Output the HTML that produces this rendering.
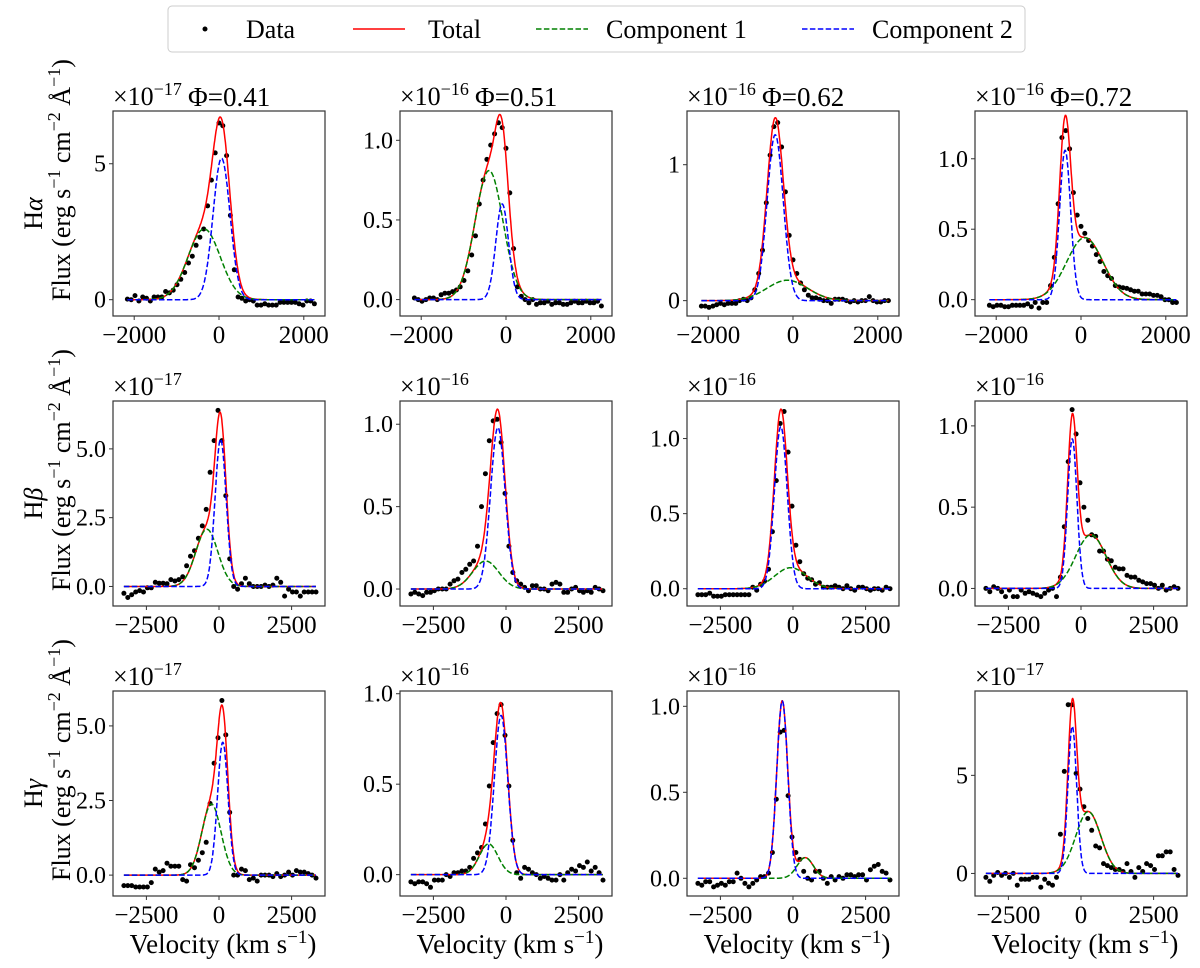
<!DOCTYPE html>
<html><head><meta charset="utf-8"><style>
html,body{margin:0;padding:0;background:#fff;}
svg{display:block;font-family:"Liberation Serif",serif;}
</style></head><body>
<svg id="fig" width="1200" height="968" viewBox="0 0 1200 968" xmlns="http://www.w3.org/2000/svg">
  <g>
    <rect x="168" y="6" width="857" height="46" rx="4" fill="#fff" stroke="#cccccc" stroke-width="1"/>
    <circle cx="205" cy="29" r="2.5" fill="#000"/>
    <text x="246" y="38" font-size="26">Data</text>
    <line x1="353" y1="29" x2="405" y2="29" stroke="#ff0000" stroke-width="1.5"/>
    <text x="428" y="38" font-size="26">Total</text>
    <line x1="536" y1="29" x2="588" y2="29" stroke="#008000" stroke-width="1.5" stroke-dasharray="5.5,2.4"/>
    <text x="606" y="38" font-size="26">Component 1</text>
    <line x1="802" y1="29" x2="854" y2="29" stroke="#0000ff" stroke-width="1.5" stroke-dasharray="5.5,2.4"/>
    <text x="872" y="38" font-size="26">Component 2</text>
  </g>
  <g id="panels"></g>
  <g id="labels"></g>
</svg>
<script>
// ---- data (flux in panel units of the shown ×10^n offset) ----
const xStartRow = [-2160, -3275, -3275];
const xStepRow = [90, 135, 135];
const xLimRow = [[-2500, 2500], [-3650, 3650], [-3650, 3650]];
const xTickValsRow = [[-2000, 0, 2000], [-2500, 0, 2500], [-2500, 0, 2500]];
const xTickLabelsRow = [["−2000", "0", "2000"], ["−2500", "0", "2500"], ["−2500", "0", "2500"]];

const dataP1 = [0.02,0,0.15,-0.05,0.1,0.05,-0.05,0.1,0.1,0.1, 0.3,0.25,0.35,0.55,0.75,1.0,1.35,1.6,2.0,2.3, 2.6,3.45,4.4,5.4,6.5,6.4,5.3,3.1,1.1,0.1, 0.05,-0.05,0,-0.05,-0.2,-0.2,-0.15,-0.2,-0.2,-0.2, -0.1,-0.1,-0.1,-0.1,-0.1,-0.15,-0.2,-0.05,-0.05,-0.15];
const dataP2 = [0.01,0,-0.01,0,0.01,0.01,0,0.03,0.04,0.04, 0.05,0.06,0.08,0.12,0.18,0.28,0.4,0.6,0.75,0.88, 0.97,1.04,1.11,1.08,0.95,0.67,0.32,0.08,0.02,0, -0.02,0,-0.03,-0.02,-0.02,-0.01,-0.03,-0.02,-0.02,-0.03, -0.03,-0.02,-0.01,-0.02,-0.02,-0.01,-0.02,-0.02,-0.01,-0.04];
const dataP3 = [-0.04,-0.04,-0.05,-0.04,-0.03,-0.02,-0.03,-0.02,-0.02,-0.02, 0,0.01,0,0.02,0.08,0.2,0.37,0.72,1.07,1.28, 1.31,1.13,0.8,0.48,0.3,0.2,0.13,0.08,0.04,0.02, 0.02,0.01,0,0,-0.02,0.01,0.01,0.01,0,-0.01, 0,-0.01,0,0,0.03,0,-0.01,-0.01,0,0];
const dataP4 = [-0.04,-0.05,-0.04,-0.04,-0.05,-0.05,-0.04,-0.04,-0.04,-0.04, -0.03,-0.05,-0.02,-0.06,-0.02,-0.02,0.1,0.3,0.68,1.15, 1.2,1.07,0.76,0.6,0.52,0.47,0.42,0.38,0.32,0.27, 0.2,0.17,0.15,0.1,0.09,0.085,0.08,0.07,0.06,0.06, 0.04,0.04,0.04,0.03,0.03,0.02,0,0,-0.02,-0.02];
const dataP5 = [-0.25,-0.4,-0.3,-0.2,-0.15,-0.2,-0.05,-0.05,0.15,0.12, 0.12,0.1,0.25,0.2,0.25,0.35,0.75,1.1,1.3,1.75, 2.2,2.8,4.15,5.3,6.4,5.3,3.3,1.0,0,-0.1, 0.1,0.3,0.1,0,0,0,0.05,0,0.05,0.3, 0.15,-0.35,-0.1,-0.2,-0.2,-0.35,-0.2,-0.2,-0.2,-0.2];
const dataP6 = [-0.03,-0.02,-0.03,-0.04,-0.02,-0.02,-0.01,0,0,0, 0.03,0.05,0.06,0.1,0.12,0.15,0.17,0.26,0.5,0.7, 0.9,1.02,1.03,0.89,0.58,0.26,0.1,0.05,0.03,0.01, -0.01,0.02,0.02,0,0,-0.01,0.03,0.04,0.03,-0.02, -0.02,0,0.01,-0.01,-0.02,-0.01,-0.02,0.01,0,-0.01];
const dataP7 = [-0.04,-0.04,-0.04,-0.03,-0.05,-0.05,-0.05,-0.04,-0.04,-0.04, -0.04,-0.04,-0.04,-0.04,0.01,-0.01,0.03,0.05,0.13,0.38, 0.72,1.1,1.18,0.91,0.55,0.29,0.18,0.1,0.07,0.06, 0.03,0.04,0.01,0.01,0.01,0.02,0.01,0,0.02,0, -0.01,0.01,0.01,0,-0.01,0,0,-0.01,0.01,0];
const dataP8 = [0,-0.02,0.01,0,-0.02,-0.05,-0.01,-0.05,-0.05,-0.01, -0.03,-0.02,-0.03,-0.04,-0.05,-0.03,-0.01,0,-0.05,0.07, 0.38,0.78,1.1,0.95,0.65,0.5,0.42,0.33,0.32,0.23, 0.23,0.18,0.17,0.13,0.12,0.12,0.08,0.07,0.07,0.05, 0.04,0.03,0.03,0.02,0,0.02,-0.01,0,0.01,0];
const dataP9 = [-0.35,-0.35,-0.35,-0.4,-0.4,-0.4,-0.4,-0.25,0.2,0.1, 0.15,0.4,0.3,0.3,0.3,-0.15,-0.2,0.35,0.25,0.5, 0.75,1.1,2.4,3.75,4.6,5.85,4.7,2.1,0,0, 0.2,0.15,-0.15,-0.1,-0.2,0,0,0,-0.05,0.05, -0.05,0,0.1,0,0.15,0.1,0.1,0.05,0,-0.1];
const dataP10 = [-0.04,-0.05,-0.04,-0.04,-0.05,-0.07,-0.03,-0.03,-0.03,0, -0.01,0.01,0.01,0.02,0.02,0.04,0.09,0.12,0.15,0.28, 0.49,0.73,0.89,0.94,0.77,0.49,0.19,0.01,-0.02,0.04, 0.03,0.01,0,-0.02,-0.01,-0.02,-0.03,-0.03,0,-0.03, 0.01,0.03,0.02,0.05,0.04,0.07,0.02,0.04,0.01,-0.03];
const dataP11 = [-0.03,-0.04,-0.02,-0.02,-0.05,-0.04,-0.03,-0.04,-0.02,-0.02, 0.03,0,-0.03,-0.05,-0.03,-0.01,0.01,0.01,0.03,0.15, 0.46,0.85,0.86,0.48,0.24,0.15,0.11,0.04,0,-0.01, 0.04,0.04,0,-0.03,0.01,-0.01,0.01,0,0.02,0.02, 0.01,0.02,0.02,-0.01,0.05,0.07,0.08,0.04,0.03,-0.01];
const dataP12 = [-0.2,-0.4,-0.1,0.05,-0.1,0,-0.2,0,-0.6,-0.3, -0.3,-0.3,-0.2,-0.2,-0.7,-0.3,-0.5,-0.6,-0.2,2.0, 5.2,8.6,8.6,5.1,4.3,3.4,2.8,2.2,1.4,1.3, 0.5,0.4,0.3,0.2,0.2,0.1,0.5,0.1,-0.2,0.3, 0.1,0.5,0.4,0.2,0.9,0.9,1.1,1.1,0.2,-0.1];
const panelData = [dataP1,dataP2,dataP3,dataP4,dataP5,dataP6,dataP7,dataP8,dataP9,dataP10,dataP11,dataP12];

// Gaussian fit components (amplitude, centre km/s, sigma km/s)
const comp1Amp = [2.6, 0.81, 0.15, 0.44, 2.08, 0.17, 0.14, 0.33, 2.38, 0.17, 0.12, 3.15];
const comp1Cen = [-350, -400, -135, 90, -420, -700, -80, 340, -260, -600, 420, 250];
const comp1Sig = [380, 330, 480, 430, 380, 450, 550, 520, 330, 320, 280, 430];
const comp2Amp = [5.2, 0.6, 1.22, 1.06, 5.35, 0.98, 1.08, 0.92, 4.45, 0.88, 1.03, 7.5];
const comp2Cen = [60, -90, -420, -375, 55, -280, -420, -300, 130, -170, -370, -300];
const comp2Sig = [200, 150, 190, 130, 190, 250, 220, 160, 180, 230, 190, 150];

const yMin = [-0.6, -0.103, -0.113, -0.116, -0.71, -0.103, -0.115, -0.108, -0.70, -0.118, -0.103, -1.15];
const yMax = [6.94, 1.184, 1.395, 1.339, 6.74, 1.141, 1.25, 1.153, 6.17, 1.015, 1.089, 9.3];
const yTickVals = [[0,5],[0,0.5,1],[0,1],[0,0.5,1],[0,2.5,5],[0,0.5,1],[0,0.5,1],[0,0.5,1],[0,2.5,5],[0,0.5,1],[0,0.5,1],[0,5]];
const yTickLabels = [["0","5"],["0.0","0.5","1.0"],["0","1"],["0.0","0.5","1.0"],["0.0","2.5","5.0"],["0.0","0.5","1.0"],["0.0","0.5","1.0"],["0.0","0.5","1.0"],["0.0","2.5","5.0"],["0.0","0.5","1.0"],["0.0","0.5","1.0"],["0","5"]];
const exponents = ["−17","−16","−16","−16","−17","−16","−16","−16","−17","−16","−16","−17"];
const phaseTitles = ["Φ=0.41","Φ=0.51","Φ=0.62","Φ=0.72"];
const lineNames = ["H", "H", "H"];
const lineGreek = ["α", "β", "γ"];

// ---- layout ----
const NS = "http://www.w3.org/2000/svg";
const colLeft = [113, 400, 687, 975];
const rowTop = [111, 401, 691];
const W = 212, H = 205;

function mk(tag, attrs, parent) {
  const e = document.createElementNS(NS, tag);
  for (const k in attrs) e.setAttribute(k, attrs[k]);
  parent.appendChild(e);
  return e;
}
function gauss(a, c, s, x) { return a * Math.exp(-0.5 * ((x - c) / s) ** 2); }

const panelsG = document.getElementById("panels");
for (let p = 0; p < 12; p++) {
  const r = Math.floor(p / 4), c = p % 4;
  const L = colLeft[c], T = rowTop[r], B = T + H;
  const [x0, x1] = xLimRow[r];
  const xs = v => L + (v - x0) / (x1 - x0) * W;
  const ys = v => B - (v - yMin[p]) / (yMax[p] - yMin[p]) * H;
  const g = mk("g", {}, panelsG);
  
  

  const d = panelData[p];
  const dg = mk("g", {}, g);
  
  
  for (let i = 0; i < d.length; i++) {
    const vx = xStartRow[r] + xStepRow[r] * i;
    const pt = mk("circle", {cx: xs(vx).toFixed(1), cy: ys(d[i]).toFixed(1), r: 2.5, fill: "#000"}, dg);
    
    
  }
  const xa = xStartRow[r], xb = xStartRow[r] + xStepRow[r] * (d.length - 1);
  let pT = "", p1 = "", p2 = "";
  for (let vx = xa; vx <= xb + 0.1; vx += 10) {
    const g1 = gauss(comp1Amp[p], comp1Cen[p], comp1Sig[p], vx);
    const g2 = gauss(comp2Amp[p], comp2Cen[p], comp2Sig[p], vx);
    const X = xs(vx).toFixed(1);
    pT += X + "," + ys(g1 + g2).toFixed(1) + " ";
    p1 += X + "," + ys(g1).toFixed(1) + " ";
    p2 += X + "," + ys(g2).toFixed(1) + " ";
  }
  const lt = mk("polyline", {points: pT, fill: "none", stroke: "#ff0000", "stroke-width": 1.5}, g);
  
  
  const l1 = mk("polyline", {points: p1, fill: "none", stroke: "#008000", "stroke-width": 1.5, "stroke-dasharray": "5.5,2.4"}, g);
  
  
  const l2 = mk("polyline", {points: p2, fill: "none", stroke: "#0000ff", "stroke-width": 1.5, "stroke-dasharray": "5.5,2.4"}, g);
  
  

  const fr = mk("rect", {x: L, y: T, width: W, height: H, fill: "none", stroke: "#333", "stroke-width": 1.2}, g);
  
  

  xTickValsRow[r].forEach((v, i) => {
    const X = xs(v);
    const tk = mk("line", {x1: X, y1: B, x2: X, y2: B + 4, stroke: "#333", "stroke-width": 1}, g);
    
    
    const tl = mk("text", {x: X, y: B + 27, "font-size": 25, "text-anchor": "middle"}, g);
    tl.textContent = xTickLabelsRow[r][i];
    
    
  });
  yTickVals[p].forEach((v, i) => {
    const Y = ys(v);
    const tk = mk("line", {x1: L - 4, y1: Y, x2: L, y2: Y, stroke: "#333", "stroke-width": 1}, g);
    
    
    const tl = mk("text", {x: L - 7, y: Y + 8, "font-size": 24, "text-anchor": "end"}, g);
    tl.textContent = yTickLabels[p][i];
    
    
  });
  const off = mk("text", {x: L, y: T - 6, "font-size": 26}, g);
  
  
  const t1 = mk("tspan", {}, off); t1.textContent = "×10";
  const t2 = mk("tspan", {"font-size": 18, dy: -10}, off); t2.textContent = exponents[p];
  if (r === 0) {
    const tt = mk("text", {x: L + 75, y: T - 5, "font-size": 27, "text-anchor": "start"}, g);
    tt.textContent = phaseTitles[c];
    
    
  }
}

const lab = document.getElementById("labels");
for (let r = 0; r < 3; r++) {
  const cy = rowTop[r] + H / 2;
  const hl = mk("text", {x: 0, y: 0, "font-size": 26, "text-anchor": "middle", transform: "translate(42," + cy + ") rotate(-90)"}, lab);
  
  
  const a = mk("tspan", {}, hl); a.textContent = lineNames[r];
  const b = mk("tspan", {"font-style": "italic"}, hl); b.textContent = lineGreek[r];
  const fl = mk("text", {x: 0, y: 0, "font-size": 26, "text-anchor": "start", transform: "translate(70," + (rowTop[r] + 190) + ") rotate(-90)"}, lab);
  
  
  const parts = [["Flux (erg s", 0], ["−1", 1], [" cm", 0], ["−2", 1], [" Å", 0], ["−1", 1], [")", 0]];
  parts.forEach(([s, sup]) => {
    const t = mk("tspan", sup ? {"font-size": 18, dy: -10} : {dy: 0}, fl);
    t.textContent = s;
    if (sup) { const back = mk("tspan", {dy: 10, "font-size": 1}, fl); back.textContent = "\u200b"; }
  });
}
for (let c = 0; c < 4; c++) {
  const xl = mk("text", {x: colLeft[c] + W / 2 + 4, y: 953, "font-size": 27, "text-anchor": "middle"}, lab);
  
  
  const a = mk("tspan", {}, xl); a.textContent = "Velocity (km s";
  const b = mk("tspan", {"font-size": 19, dy: -10}, xl); b.textContent = "−1";
  const cc = mk("tspan", {dy: 10}, xl); cc.textContent = ")";
}
</script>
</body></html>
